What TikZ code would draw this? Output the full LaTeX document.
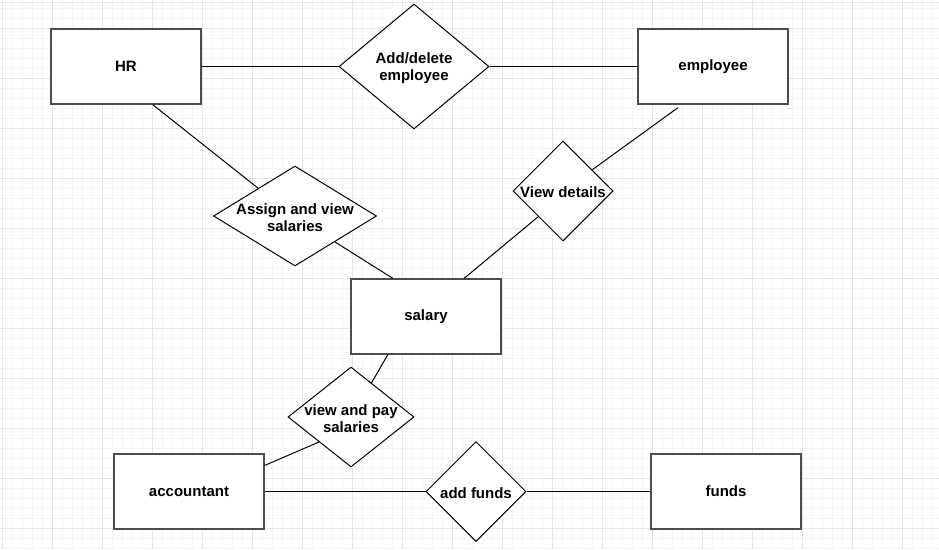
\documentclass[tikz,border=0pt]{standalone}
\usepackage{fontspec}
\setmainfont{Liberation Sans}
\usetikzlibrary{shapes,positioning}
\tikzset{
  entity/.style={draw=black!70, line width=1.4pt, fill=white,
    minimum width=150pt, minimum height=75pt, inner sep=0pt},
  rel/.style={diamond, draw=black, line width=1pt, fill=white,
    inner sep=0pt, minimum width=100pt, minimum height=100pt},
  rtext/.style={label={[align=center, inner sep=0pt, yshift=-1.5pt]center:#1}},
  link/.style={draw=black, line width=1pt},
  every node/.style={font=\fontsize{15}{17}\selectfont\bfseries},
  gridminor/.style={draw=black!4, line width=0.7pt},
  gridmajor/.style={draw=black!10, line width=0.7pt},
}

\begin{document}
\begin{tikzpicture}[x=1pt, y=-1pt]
    \useasboundingbox (0,0) rectangle (939,549);
    \foreach \x in {2,12,...,932} \draw[gridminor] (\x,0) -- (\x,549);
    \foreach \y in {8,18,...,548} \draw[gridminor] (0,\y) -- (939,\y);
    \foreach \x in {2,52,...,902} \draw[gridmajor] (\x,0) -- (\x,549);
    \foreach \y in {28,78,...,528} \draw[gridmajor] (0,\y) -- (939,\y);
    \draw[gridmajor] (0,2) -- (939,2);

    \node[entity] (hr) at (126,66.5) {HR};
    \node[entity] (emp) at (713,66.5) {employee};
    \node[entity] (sal) at (426,316.5) {salary};
    \node[entity] (acc) at (189,491.5) {accountant};
    \node[entity] (fund) at (726,491.5) {funds};

    \node[rel, minimum width=150pt, minimum height=125pt,
      rtext={Add/delete\\employee}] (adddel) at (414,66.5) {};
    \node[rel, minimum width=163pt, rtext={Assign and view\\salaries}]
      (assign) at (295,216) {};
    \node[rel, rtext={View details}] (det) at (563,191) {};
    \node[rel, minimum width=126pt, rtext={view and pay\\salaries}]
      (pay) at (351,417) {};
    \node[rel, rtext={add funds}] (addf) at (476,491.5) {};

    \draw[link] (hr.east) -- (adddel.west);
    \draw[link] (adddel.east) -- (emp.west);
    \draw[link] (hr.-55) -- (assign.143);
    \draw[link] (assign.-33) -- (sal.131);
    \draw[link, shorten <=5pt] (emp.-129) -- (det.36);
    \draw[link] (det.-134) -- (sal.45);
    \draw[link] (sal.-135) -- (pay.59);
    \draw[link] (pay.-142) -- (acc.19);
    \draw[link] (acc.east) -- (addf.west);
    \draw[link] (addf.east) -- (fund.west);
\end{tikzpicture}
\end{document}
